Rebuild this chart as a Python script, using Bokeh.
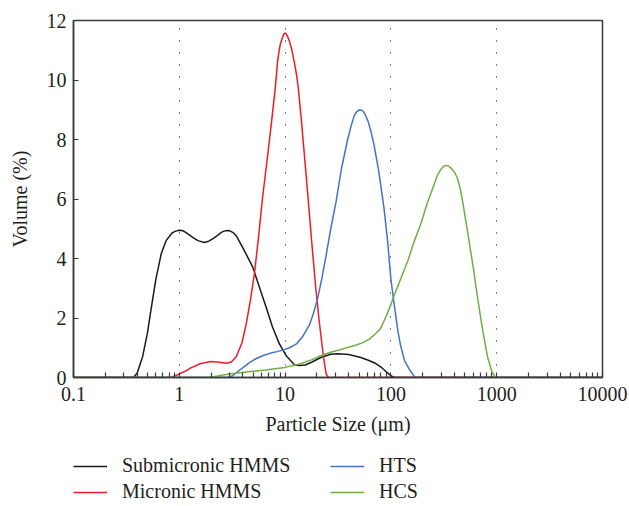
from bokeh.plotting import figure
from bokeh.layouts import column
from bokeh.models import FixedTicker, CustomJSTickFormatter, Legend, LegendItem, Range1d
from bokeh.embed import file_html
from bokeh.resources import INLINE

# ---- data ----
sub_x = [0.1, 0.3, 0.37, 0.40, 0.45, 0.50, 0.544, 0.60, 0.676, 0.75, 0.85, 0.92, 1.0, 1.07, 1.15,
         1.35, 1.5, 1.72, 1.9, 2.1, 2.3, 2.5, 2.65, 2.84, 3.0, 3.2, 3.45, 4.0, 4.95, 5.7, 6.62,
         7.6, 8.83, 10.3, 12.2, 13.5, 15.5, 18, 22, 27, 31.6, 40, 52, 62, 72, 82, 92, 100, 107, 10000]
sub_y = [0, 0, 0, 0.15, 0.7, 1.5, 2.35, 3.3, 4.17, 4.6, 4.85, 4.92, 4.95, 4.94, 4.88,
         4.7, 4.6, 4.54, 4.58, 4.68, 4.78, 4.88, 4.92, 4.94, 4.93, 4.88, 4.77, 4.35, 3.71, 3.05, 2.36,
         1.7, 1.13, 0.72, 0.44, 0.40, 0.42, 0.52, 0.68, 0.78, 0.8, 0.77, 0.67, 0.57, 0.47, 0.33, 0.17,
         0.06, 0, 0]

mic_x = [0.1, 0.8, 0.84, 0.92, 1.0, 1.15, 1.3, 1.6, 2.0, 2.4, 2.77, 3.1, 3.45, 3.9, 4.29,
         4.7, 5.13, 5.6, 6.1, 6.87, 7.5, 8.09, 8.5, 8.8, 9.0, 9.5, 9.75, 10, 10.25, 10.6, 11.0,
         11.6, 12.2, 12.8, 13.3, 14.2, 15.2, 16.6, 18, 19.5, 21, 22.5, 23.5, 24.4, 25.4, 26, 10000]
mic_y = [0, 0, 0.01, 0.06, 0.12, 0.22, 0.33, 0.47, 0.54, 0.51, 0.48, 0.52, 0.7, 1.15, 1.8,
         2.6, 3.49, 4.7, 6.0, 7.52, 8.7, 9.76, 10.65, 11.0, 11.2, 11.45, 11.55, 11.58, 11.55, 11.45,
         11.3, 11.0, 10.6, 10.2, 9.76, 8.7, 7.5, 5.9, 4.4, 3.0, 1.9, 1.0, 0.5, 0.13, 0.01, 0, 0]

hts_x = [0.1, 2.9, 3.2, 3.45, 4.0, 4.6, 5.3, 6.2, 7.3, 8.4, 9.5, 11, 12.7, 14.5, 16.9, 18.5,
         20.3, 22.3, 24.4, 27, 30.3, 34, 39, 42, 45, 48, 51, 54, 57, 61, 65, 69, 77, 86, 93, 100,
         107, 116, 123, 135, 154, 165, 172, 10000]
hts_y = [0, 0, 0.06, 0.16, 0.33, 0.5, 0.63, 0.74, 0.82, 0.87, 0.92, 1.0, 1.12, 1.35, 1.75, 2.15,
         2.65, 3.35, 4.1, 5.0, 5.9, 7.0, 8.0, 8.45, 8.8, 8.95, 9.0, 8.97, 8.85, 8.6, 8.25, 7.85, 6.9,
         5.7, 4.6, 3.3, 2.5, 1.6, 1.1, 0.55, 0.2, 0.05, 0, 0]

hcs_x = [0.1, 1.9, 2.3, 3.1, 4.5, 6.5, 10, 14, 18, 22, 27, 33, 40, 48, 55, 63, 72, 80, 90, 100,
         107, 125, 145, 165, 192, 220, 257, 275, 300, 315, 331, 350, 375, 400, 427, 455, 480, 534,
         600, 665, 740, 822, 900, 960, 1000, 10000]
hcs_y = [0, 0, 0.05, 0.13, 0.19, 0.25, 0.34, 0.46, 0.6, 0.74, 0.85, 0.93, 1.02, 1.1, 1.18, 1.3,
         1.48, 1.65, 2.05, 2.45, 2.75, 3.35, 3.93, 4.55, 5.17, 5.85, 6.5, 6.8, 7.02, 7.1, 7.13, 7.11,
         7.02, 6.9, 6.68, 6.3, 5.85, 4.84, 3.7, 2.59, 1.55, 0.67, 0.2, 0.03, 0, 0]

series_names = ["Submicronic HMMS", "Micronic HMMS", "HTS", "HCS"]
series_colors = ["#1a1a1a", "#ee1c25", "#4472c4", "#70ad47"]

x_major = [0.1, 1, 10, 100, 1000, 10000]
y_major = [0, 2, 4, 6, 8, 10, 12]

FONT = "Liberation Serif"
FS = "20px"
TXT = "#231f20"
FRAME = "#3a3a3a"

p = figure(x_axis_type="log", x_range=(0.1, 10000), y_range=(0, 12),
           width=629, height=446,
           min_border_left=73, min_border_right=27, min_border_top=20, min_border_bottom=69,
           output_backend="svg", toolbar_location=None)
p.background_fill_color = "white"
p.border_fill_color = "white"
p.outline_line_color = FRAME
p.outline_line_width = 1.5

# grid: dotted verticals at decades
p.ygrid.grid_line_color = None
p.xgrid.grid_line_color = "black"
p.xgrid.grid_line_dash = "1 11"
p.xgrid.grid_line_width = 1

minor = [m * 10.0 ** e for e in range(-1, 4) for m in range(2, 10)]
p.xaxis.ticker = FixedTicker(ticks=x_major, minor_ticks=minor)
p.xgrid.ticker = FixedTicker(ticks=[1, 10, 100, 1000])
p.xaxis.formatter = CustomJSTickFormatter(code="return tick >= 1 ? tick.toFixed(0) : String(tick);")
p.yaxis.ticker = FixedTicker(ticks=y_major, minor_ticks=[])

for ax in (p.xaxis[0], p.yaxis[0]):
    ax.axis_line_color = FRAME
    ax.axis_line_width = 1.5
    ax.major_tick_line_color = FRAME
    ax.minor_tick_line_color = FRAME
    ax.major_tick_line_width = 1.2
    ax.minor_tick_line_width = 1.2
    ax.major_tick_in = 5
    ax.major_tick_out = 0
    ax.minor_tick_in = 5
    ax.minor_tick_out = 0
    ax.major_label_text_font = FONT
    ax.major_label_text_font_size = FS
    ax.major_label_text_color = TXT
    ax.axis_label_text_font = FONT
    ax.axis_label_text_font_size = FS
    ax.axis_label_text_font_style = "normal"
    ax.axis_label_text_color = TXT

p.xaxis.axis_label = "Particle Size (\u03bcm)"
p.yaxis.axis_label = "Volume (%)"
p.xaxis.major_label_standoff = 9
p.xaxis.axis_label_standoff = 9
p.yaxis.major_label_standoff = 7
p.yaxis.axis_label_standoff = 13

data = [(sub_x, sub_y), (mic_x, mic_y), (hts_x, hts_y), (hcs_x, hcs_y)]
for (xs, ys), name, col in zip(data, series_names, series_colors):
    p.line(xs, ys, line_color=col, line_width=1.5)

# ---- legend strip (separate figure below the chart; its view range shows no data) ----
q = figure(width=629, height=60, x_range=Range1d(-10, -9), y_range=Range1d(-10, -9),
           min_border=0, min_border_left=0, min_border_right=0, min_border_top=0, min_border_bottom=0,
           x_axis_location=None, y_axis_location=None,
           output_backend="svg", toolbar_location=None)
q.outline_line_color = None
q.grid.grid_line_color = None
q.background_fill_color = "white"
q.border_fill_color = "white"

items = []
for (xs, ys), name, col in zip(data, series_names, series_colors):
    r = q.line(xs, ys, line_color=col, line_width=1.5)
    items.append(LegendItem(label=name, renderers=[r]))

legend = Legend(items=items, ncols=2, orientation="vertical", location=(0, 3))
legend.border_line_color = None
legend.background_fill_alpha = 0
legend.padding = 0
legend.margin = 0
legend.spacing = 3
legend.glyph_width = 34
legend.glyph_height = 20
legend.label_height = 20
legend.label_width = 205
legend.label_standoff = 15
legend.label_text_font = FONT
legend.label_text_font_size = FS
legend.label_text_color = TXT
q.add_layout(legend, "center")

layout = column(p, q, spacing=0)
open("out.html", "w").write(file_html(layout, INLINE))
